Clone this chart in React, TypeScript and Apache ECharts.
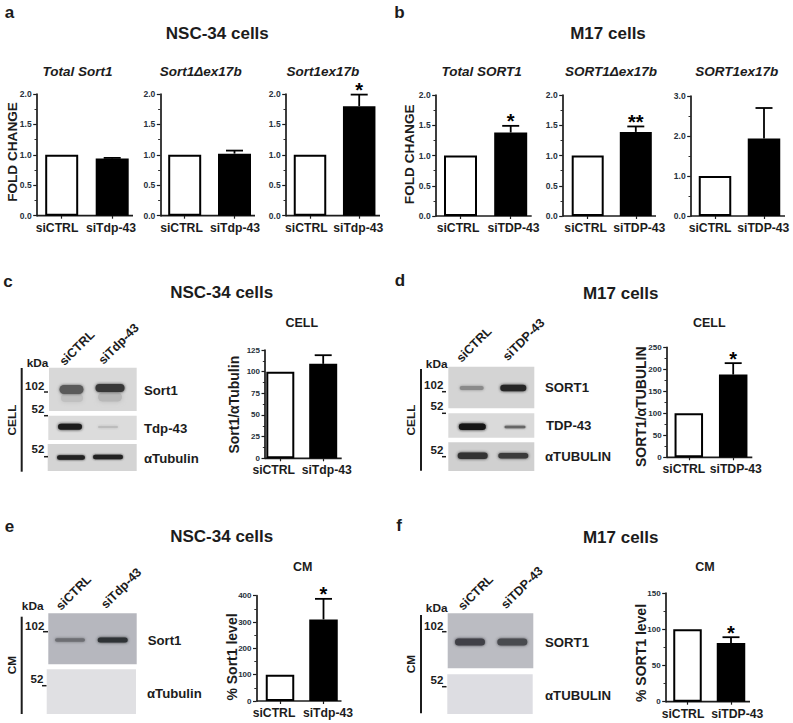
import React, { useEffect, useRef } from "react";
import * as echarts from "echarts";

const mouseCats = ["siCTRL", "siTdp-43"];
const humanCats = ["siCTRL", "siTDP-43"];

const a1Values = [1.0, 0.94];
const a1Upper = 0.95;
const a2Values = [1.0, 1.02];
const a2Upper = 1.07;
const a3Values = [1.0, 1.8];
const a3Upper = 1.99;
const b1Values = [1.0, 1.38];
const b1Upper = 1.49;
const b2Values = [1.0, 1.39];
const b2Upper = 1.48;
const b3Values = [1.0, 1.94];
const b3Upper = 2.7;
const cValues = [100, 109];
const cUpper = 119;
const dValues = [100, 188];
const dUpper = 214;
const eValues = [100, 310];
const eUpper = 388;
const fValues = [100, 81];
const fUpper = 89;

const FONT = '"Liberation Sans", Arial, sans-serif';
const INK = "#1c1c1c";

type Chart = {
  cats: string[]; values: number[]; upper: number; star?: string; max: number; interval: number;
  axisX: number; top: number; bottom: number; c0: number; c1: number; end: number; barW: number;
  labelC: number[];
  name?: string; nameX?: number; nameY?: number; nameSize?: number; tickSize: number;
};

const charts: Chart[] = [
  { cats: mouseCats, values: a1Values, upper: a1Upper, max: 2, interval: 0.5, axisX: 36.7, top: 94, bottom: 215.7, c0: 61.7, c1: 112.2, end: 133, barW: 33, labelC: [57, 111], name: "FOLD CHANGE", nameX: 12.3, nameY: 152, nameSize: 13.6, tickSize: 8.5 },
  { cats: mouseCats, values: a2Values, upper: a2Upper, max: 2, interval: 0.5, axisX: 160.3, top: 94, bottom: 215.7, c0: 184.7, c1: 234.5, end: 255, barW: 33, labelC: [181.5, 235], tickSize: 8.5 },
  { cats: mouseCats, values: a3Values, upper: a3Upper, star: "*", max: 2, interval: 0.5, axisX: 285.7, top: 94, bottom: 215.7, c0: 310, c1: 359.2, end: 380, barW: 32.5, labelC: [306.3, 358.3], tickSize: 8.5 },
  { cats: humanCats, values: b1Values, upper: b1Upper, star: "*", max: 2, interval: 0.5, axisX: 435.7, top: 95, bottom: 216, c0: 460.5, c1: 510.7, end: 531.7, barW: 33, labelC: [458, 513.5], name: "FOLD CHANGE", nameX: 410, nameY: 154.3, nameSize: 13.6, tickSize: 8.5 },
  { cats: humanCats, values: b2Values, upper: b2Upper, star: "**", max: 2, interval: 0.5, axisX: 562.7, top: 95, bottom: 216, c0: 587.7, c1: 635.8, end: 656, barW: 32, labelC: [585.7, 639.3], tickSize: 8.5 },
  { cats: humanCats, values: b3Values, upper: b3Upper, max: 3, interval: 1, axisX: 690.7, top: 96, bottom: 216, c0: 715, c1: 764, end: 785, barW: 32.5, labelC: [710, 763.3], tickSize: 8.5 },
  { cats: mouseCats, values: cValues, upper: cUpper, max: 125, interval: 25, axisX: 265, top: 350, bottom: 458.3, c0: 280.3, c1: 323.2, end: 341.7, barW: 28, labelC: [273.7, 326.7], name: "Sort1/αTubulin", nameX: 234.3, nameY: 404.7, nameSize: 14, tickSize: 8 },
  { cats: humanCats, values: dValues, upper: dUpper, star: "*", max: 250, interval: 50, axisX: 666.7, top: 347.3, bottom: 457.3, c0: 688.8, c1: 733.2, end: 752.3, barW: 28.5, labelC: [683.8, 735.8], name: "SORT1/αTUBULIN", nameX: 640.7, nameY: 406.7, nameSize: 14, tickSize: 8 },
  { cats: mouseCats, values: eValues, upper: eUpper, star: "*", max: 400, interval: 100, axisX: 256.5, top: 595.7, bottom: 701, c0: 280, c1: 323.5, end: 341.5, barW: 28.5, labelC: [274, 328], name: "% Sort1 level", nameX: 232.3, nameY: 657, nameSize: 14, tickSize: 8 },
  { cats: humanCats, values: fValues, upper: fUpper, star: "*", max: 150, interval: 50, axisX: 665.7, top: 593, bottom: 701.7, c0: 687.5, c1: 731, end: 750, barW: 28.5, labelC: [683, 737.2], name: "% SORT1 level", nameX: 640.7, nameY: 653, nameSize: 14, tickSize: 8 },
];

const txt = (text: string, x: number, y: number, size: number, weight: string, align = "center", rot = 0, italic = false) => ({
  type: "text", x, y, rotation: rot, silent: true,
  style: { text, x: 0, y: 0, fontSize: size, fontWeight: weight, fontStyle: italic ? "italic" : "normal", fontFamily: FONT, fill: INK, align, verticalAlign: "middle" },
});
const seg = (x1: number, y1: number, x2: number, y2: number, w: number) => ({
  type: "line", silent: true, shape: { x1, y1, x2, y2 }, style: { stroke: INK, lineWidth: w },
});
const box = (x0: number, y0: number, x1: number, y1: number, fill: string) => ({
  type: "rect", silent: true, shape: { x: x0, y: y0, width: x1 - x0, height: y1 - y0 }, style: { fill },
});
const band = (cx: number, cy: number, w: number, h: number, color: string, blur = 3) => ({
  type: "rect", silent: true,
  shape: { x: cx - w / 2, y: cy - h / 2, width: w, height: h, r: h / 2 },
  style: { fill: color, shadowBlur: blur, shadowColor: color },
});

const PI45 = Math.PI / 4;
const PI90 = Math.PI / 2;

const headings = [
  txt("a", 9.5, 12, 17, "bold"), txt("b", 399.5, 12, 17, "bold"),
  txt("c", 8, 281, 17, "bold"), txt("d", 400, 280, 17, "bold"),
  txt("e", 9.5, 526, 17, "bold"), txt("f", 399, 525, 17, "bold"),
  txt("NSC-34 cells", 217.3, 33, 17, "bold"), txt("M17 cells", 608, 33, 17, "bold"),
  txt("NSC-34 cells", 221.7, 292.7, 17, "bold"), txt("M17 cells", 620.7, 293, 17, "bold"),
  txt("NSC-34 cells", 221.7, 536.7, 17, "bold"), txt("M17 cells", 620.7, 537, 17, "bold"),
  txt("Total Sort1", 77.5, 71, 13.5, "bold", "center", 0, true),
  txt("Sort1Δex17b", 200.7, 71, 13.5, "bold", "center", 0, true),
  txt("Sort1ex17b", 322.8, 71, 13.5, "bold", "center", 0, true),
  txt("Total SORT1", 481.7, 71, 13.5, "bold", "center", 0, true),
  txt("SORT1Δex17b", 611, 71, 13.5, "bold", "center", 0, true),
  txt("SORT1ex17b", 736.7, 71, 13.5, "bold", "center", 0, true),
  txt("CELL", 301.7, 323, 12.5, "bold"), txt("CELL", 709.3, 323, 12.5, "bold"),
  txt("CM", 302.7, 567.3, 12.5, "bold"), txt("CM", 705, 567, 12.5, "bold"),
];

const blotC = [
  box(49, 367.7, 136.7, 411, "#d8d8d8"), box(48.3, 415.7, 136.7, 440, "#dcdcdc"), box(47.7, 444, 136.7, 471, "#d4d4d4"),
  band(72, 398, 22, 8, "#c0c0c0", 5), band(110, 397, 24, 9, "#b8b8b8", 5),
  band(71.5, 389.5, 24, 9, "#5a5a5a", 3), band(110, 388, 29, 8, "#383838", 3),
  band(70, 426.7, 24, 6, "#1c1c1c", 3), band(108, 427, 20, 2, "#bcbcbc", 3),
  band(71, 457.5, 28, 4.5, "#222222", 2.5), band(108, 457, 30, 4.5, "#222222", 2.5),
  seg(21.7, 368, 21.7, 471.7, 2),
  txt("CELL", 12.3, 420, 11.8, "bold", "center", PI90),
  txt("kDa", 37.5, 362.7, 11.8, "bold"),
  txt("102", 44.3, 385.7, 11.5, "bold", "right"), seg(44, 392, 48, 392, 1.5),
  txt("52", 44.3, 409.3, 11.5, "bold", "right"), seg(44, 415.7, 48, 415.7, 1.5),
  txt("52", 44.3, 449.3, 11.5, "bold", "right"), seg(44, 456.7, 48, 456.7, 1.5),
  txt("siCTRL", 77, 348, 12.5, "bold", "center", PI45),
  txt("siTdp-43", 118.7, 344, 12.5, "bold", "center", PI45),
  txt("Sort1", 144, 390, 13.2, "bold", "left"),
  txt("Tdp-43", 144, 428.7, 13.2, "bold", "left"),
  txt("αTubulin", 144, 458.3, 13.2, "bold", "left"),
];

const blotD = [
  box(448.3, 366.7, 534.3, 408.3, "#d4d4d4"), box(448.3, 413.3, 534.3, 437.7, "#dadada"), box(448.3, 442.3, 534.3, 471, "#d0d0d0"),
  band(471.7, 388, 24, 4, "#8a8a8a", 3), band(513.3, 388, 26, 6.5, "#282828", 3),
  band(472.3, 426.7, 27, 6.5, "#141414", 3), band(515, 427, 21, 2.5, "#666666", 2.5),
  band(472.7, 455.7, 30, 6.5, "#333333", 3), band(513.3, 455.7, 30, 5.5, "#3a3a3a", 3),
  seg(421, 369, 421, 470.7, 2),
  txt("CELL", 411, 420, 11.8, "bold", "center", PI90),
  txt("kDa", 436.7, 364, 11.8, "bold"),
  txt("102", 443.3, 385, 11.5, "bold", "right"), seg(442, 391.7, 446, 391.7, 1.5),
  txt("52", 443.3, 406, 11.5, "bold", "right"), seg(442, 413.3, 446, 413.3, 1.5),
  txt("52", 443.3, 450, 11.5, "bold", "right"), seg(442, 456.7, 446, 456.7, 1.5),
  txt("siCTRL", 474, 344.7, 12.5, "bold", "center", PI45),
  txt("siTDP-43", 523.7, 339.7, 12.5, "bold", "center", PI45),
  txt("SORT1", 545, 387.7, 13.2, "bold", "left"),
  txt("TDP-43", 546, 425.7, 13.2, "bold", "left"),
  txt("αTUBULIN", 545, 456, 13.2, "bold", "left"),
];

const blotE = [
  box(48.3, 613.3, 136.7, 664.3, "#b6b7be"), box(46.7, 669.3, 136, 714, "#e0e0e3"),
  band(70, 640, 30, 3.5, "#6d6e73", 3), band(112.7, 640, 30, 5, "#2f3035", 3),
  seg(21.7, 616.7, 21.7, 714, 2),
  txt("CM", 12.3, 665, 11.8, "bold", "center", PI90),
  txt("kDa", 32.7, 606, 11.8, "bold"),
  txt("102", 44.3, 625.7, 11.5, "bold", "right"), seg(43, 631.7, 48, 631.7, 1.5),
  txt("52", 43.3, 679.3, 11.5, "bold", "right"), seg(42, 685.7, 46.5, 685.7, 1.5),
  txt("siCTRL", 73.7, 592.7, 12.5, "bold", "center", PI45),
  txt("siTdp-43", 121.3, 588.3, 12.5, "bold", "center", PI45),
  txt("Sort1", 147.7, 640, 13.2, "bold", "left"),
  txt("αTubulin", 147, 693.3, 13.2, "bold", "left"),
];

const blotF = [
  box(447.7, 613.3, 533.3, 668.3, "#bbbcc2"), box(447.3, 674.3, 532.7, 714, "#dddde2"),
  band(470, 642, 30, 7, "#404146", 3.5), band(512.3, 642, 30, 7, "#4a4b50", 3.5),
  seg(421, 615, 421, 713.3, 2),
  txt("CM", 410.7, 664, 11.8, "bold", "center", PI90),
  txt("kDa", 436.7, 608.3, 11.8, "bold"),
  txt("102", 443.3, 625.7, 11.5, "bold", "right"), seg(442, 631.7, 446.5, 631.7, 1.5),
  txt("52", 443.3, 680, 11.5, "bold", "right"), seg(442, 686.7, 446.5, 686.7, 1.5),
  txt("siCTRL", 475.7, 592.7, 12.5, "bold", "center", PI45),
  txt("siTDP-43", 522, 587.7, 12.5, "bold", "center", PI45),
  txt("SORT1", 545, 642, 13.2, "bold", "left"),
  txt("αTUBULIN", 545, 695, 13.2, "bold", "left"),
];

function buildOption() {
  const grid: any[] = [];
  const xAxis: any[] = [];
  const yAxis: any[] = [];
  const series: any[] = [];
  const baselines: any[] = [];

  charts.forEach((c, i) => {
    const sp = c.c1 - c.c0;
    const left = c.c0 - sp / 2;
    const centers = [c.c0, c.c1];
    const rich: any = {};
    c.cats.forEach((_n, k) => {
      const off = c.labelC[k] - centers[k];
      rich["l" + k] = {
        fontFamily: FONT, fontSize: 12.2, fontWeight: "bold", color: INK,
        padding: off < 0 ? [0, -2 * off, 0, 0] : [0, 0, 0, 2 * off],
      };
    });
    const nameShift = c.name ? (c.nameY as number) - (c.top + c.bottom) / 2 : 0;
    grid.push({ left, top: c.top, width: sp * 2, height: c.bottom - c.top, containLabel: false });
    xAxis.push({
      type: "category", gridIndex: i, data: c.cats,
      axisLine: { show: false },
      axisTick: { show: true, alignWithLabel: true, length: 3, lineStyle: { color: INK, width: 1.2 } },
      axisLabel: {
        interval: 0, margin: 6, hideOverlap: false,
        fontFamily: FONT, fontSize: 12.2, fontWeight: "bold", color: INK,
        formatter: (v: string, k: number) => `{l${k}|${v}}`,
        rich,
      },
    });
    yAxis.push({
      type: "value", gridIndex: i, min: 0, max: c.max, interval: c.interval, offset: left - c.axisX,
      name: c.name, nameLocation: "middle", nameRotate: 90, nameMoveOverlap: false,
      nameGap: c.name ? c.axisX - (c.nameX as number) - (c.nameSize as number) / 2 : 0,
      nameTextStyle: {
        fontFamily: FONT, fontSize: c.nameSize, fontWeight: "bold", color: INK,
        padding: nameShift > 0 ? [0, 2 * nameShift, 0, 0] : [0, 0, 0, -2 * nameShift],
      },
      splitLine: { show: false },
      axisLine: { show: true, onZero: false, lineStyle: { color: INK, width: 1.7 } },
      axisTick: { show: true, length: 3.5, lineStyle: { color: INK, width: 1.2 } },
      minorTick: { show: true, splitNumber: 2, length: 2.2, lineStyle: { color: INK, width: 0.9 } },
      axisLabel: {
        margin: 5, fontFamily: FONT, fontSize: c.tickSize, fontWeight: "bold", color: "#26303a",
        formatter: c.max <= 3 ? (v: number) => v.toFixed(1) : (v: number) => String(v),
      },
    });
    series.push({
      type: "bar", xAxisIndex: i, yAxisIndex: i, barWidth: c.barW,
      data: c.values.map((v, k) => ({
        value: v,
        itemStyle: { color: k === 0 ? "#ffffff" : "#000000", borderColor: "#000000", borderWidth: 2 },
      })),
      silent: true,
    });
    series.push({
      type: "custom", xAxisIndex: i, yAxisIndex: i, silent: true, clip: false, z: 4,
      encode: { x: 0, y: 1 },
      data: [[1, c.upper, c.values[1]]],
      renderItem: (_p: any, api: any) => {
        const top = api.coord([api.value(0), api.value(1)]);
        const base = api.coord([api.value(0), api.value(2)]);
        const children: any[] = [
          { type: "line", shape: { x1: top[0], y1: top[1], x2: base[0], y2: base[1] }, style: { stroke: "#000", lineWidth: 1.8 } },
          { type: "line", shape: { x1: top[0] - 8.5, y1: top[1], x2: top[0] + 8.5, y2: top[1] }, style: { stroke: "#000", lineWidth: 1.8 } },
        ];
        if (c.star) {
          children.push({
            type: "text",
            style: { text: c.star, x: top[0], y: top[1] - 4.5, fontFamily: FONT, fontSize: 20, fontWeight: "bold", fill: "#000", align: "center", verticalAlign: "middle" },
          });
        }
        return { type: "group", children };
      },
    });
    baselines.push(seg(c.axisX, c.bottom, c.end, c.bottom, 1.7));
  });

  return {
    animation: false,
    backgroundColor: "#ffffff",
    tooltip: { show: false },
    grid, xAxis, yAxis, series,
    graphic: { elements: [...headings, ...blotC, ...blotD, ...blotE, ...blotF, ...baselines] },
  };
}

export default function App() {
  const ref = useRef<HTMLDivElement>(null);
  useEffect(() => {
    const chart = echarts.init(ref.current as HTMLDivElement, undefined, { renderer: "svg" });
    chart.setOption(buildOption() as any);
    return () => chart.dispose();
  }, []);
  return <div ref={ref} style={{ position: "absolute", left: 0, top: 0, width: 793, height: 723 }} />;
}
